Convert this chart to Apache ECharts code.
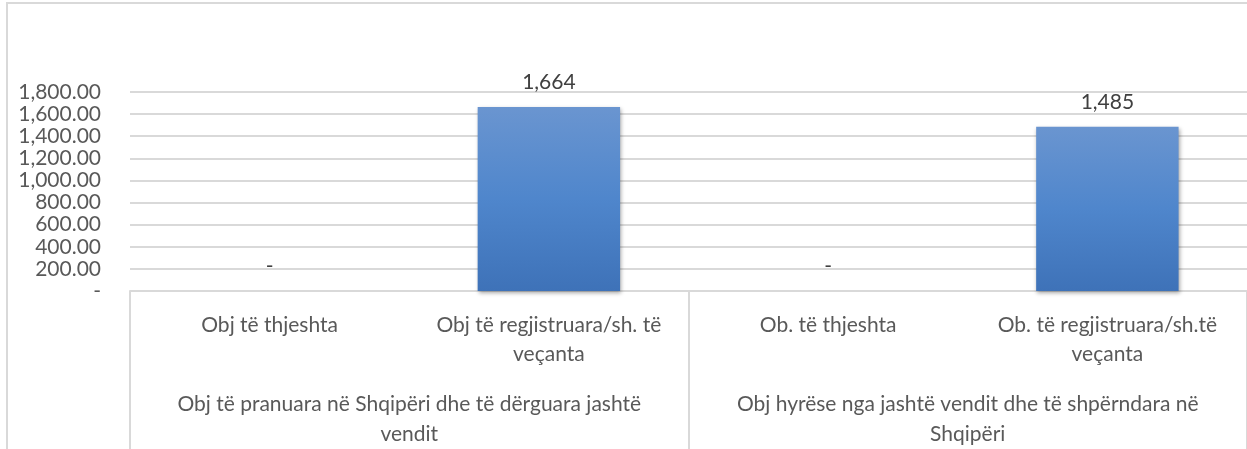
<!DOCTYPE html>
<html>
<head>
<meta charset="utf-8">
<script src="https://cdn.jsdelivr.net/npm/echarts@6/dist/echarts.min.js"></script>
<style>
  html, body { margin: 0; padding: 0; background: #fff; }
  #chart { width: 1247px; height: 449px; }
</style>
</head>
<body>
<div id="chart"></div>
<script>
// kategoritë (niveli 1) dhe grupet (niveli 2)
const categories = [
  "Obj të thjeshta",
  "Obj të regjistruara/sh. të\nveçanta",
  "Ob. të thjeshta",
  "Ob. të regjistruara/sh.të\nveçanta"
];
const groups = [
  "Obj të pranuara në Shqipëri dhe të dërguara jashtë\nvendit",
  "Obj hyrëse nga jashtë vendit dhe të shpërndara në\nShqipëri"
];
const values = [0, 1664, 0, 1485];

const yMin = 0;
const yMax = 1800;
const yStep = 200;

const font = "Lato, 'Open Sans', sans-serif";
const fmtNum = (v, d) =>
  v === 0 ? "-" : v.toLocaleString("en-US", { minimumFractionDigits: d, maximumFractionDigits: d });

const chart = echarts.init(document.getElementById("chart"));
chart.setOption({
  animation: false,
  textStyle: { fontFamily: font },
  // korniza e grafikut
  graphic: [{
    type: "rect",
    shape: { x: 7, y: 3, width: 1300, height: 500 },
    style: { fill: "none", stroke: "#d9d9d9", lineWidth: 2 },
    silent: true
  }],
  grid: { left: 130, right: -7, top: 92, bottom: 153, containLabel: false },
  xAxis: [
    {
      type: "category",
      data: categories,
      axisLine: { show: false },
      axisTick: { show: false },
      axisLabel: {
        interval: 0,
        margin: 20,
        color: "#595959",
        fontSize: 21,
        lineHeight: 29,
        verticalAlign: "top",
        fontFamily: font
      }
    },
    {
      type: "category",
      data: groups,
      position: "bottom",
      axisLine: { show: true, lineStyle: { color: "#d9d9d9", width: 2 } },
      axisTick: { show: true, length: 170, lineStyle: { color: "#d9d9d9", width: 2 } },
      axisLabel: {
        interval: 0,
        margin: 98,
        color: "#595959",
        fontSize: 21,
        lineHeight: 30,
        verticalAlign: "top",
        fontFamily: font
      }
    }
  ],
  yAxis: {
    type: "value",
    min: yMin,
    max: yMax,
    interval: yStep,
    axisLine: { show: false },
    axisTick: { show: false },
    splitLine: { lineStyle: { color: "#d9d9d9", width: 2 } },
    axisLabel: {
      margin: 29,
      color: "#595959",
      fontSize: 21,
      fontFamily: font,
      formatter: (v) => fmtNum(v, 2)
    }
  },
  series: [
    {
      type: "bar",
      xAxisIndex: 0,
      data: values,
      barWidth: "51%",
      itemStyle: {
        color: new echarts.graphic.LinearGradient(0, 0, 0, 1, [
          { offset: 0, color: "#6a95d0" },
          { offset: 0.5, color: "#4f86cc" },
          { offset: 1, color: "#3e72b8" }
        ]),
        borderWidth: 0,
        shadowColor: "rgba(0,0,0,0.35)",
        shadowBlur: 4,
        shadowOffsetX: 1,
        shadowOffsetY: 2
      },
      label: {
        show: true,
        position: "top",
        distance: 14,
        color: "#404040",
        fontSize: 21,
        fontFamily: font,
        formatter: (p) => fmtNum(p.value, 0)
      }
    }
  ]
});
</script>
</body>
</html>
